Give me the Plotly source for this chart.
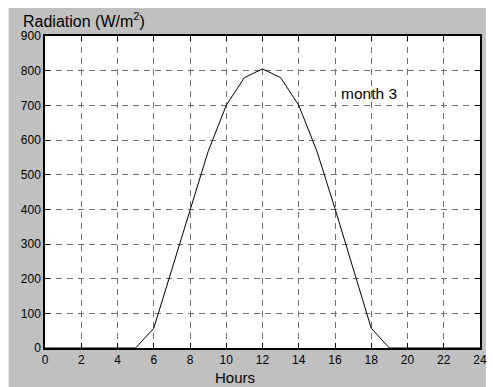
import plotly.graph_objects as go

hours = list(range(0, 25))
radiation = [0, 0, 0, 0, 0, 0, 57, 228, 402, 567, 700, 780, 805, 780, 700, 568, 402, 228, 57, 0, 0, 0, 0, 0, 0]
x_ticks = list(range(0, 25, 2))
y_ticks = list(range(0, 901, 100))

W, H = 493, 387
L, R, T, B = 45, 6, 36, 39
pw, ph = W - L - R, H - T - B

def px(xp):
    return (xp - L) / pw

def py(yp):
    return (H - B - yp) / ph

fig = go.Figure()
fig.add_trace(go.Scatter(x=hours, y=radiation, mode="lines",
                         line=dict(color="black", width=1), showlegend=False))

font = "Liberation Sans, Arial, sans-serif"
axis_common = dict(showline=True, linecolor="black", linewidth=1.5, mirror="ticks",
                   ticks="inside", ticklen=5, tickcolor="black", tickwidth=1,
                   showgrid=True, gridcolor="#707070", gridwidth=1, griddash="6px,5px",
                   zeroline=False, tickfont=dict(family=font, size=12, color="black"))

fig.update_xaxes(range=[0, 24], tickvals=x_ticks, **axis_common)
fig.update_yaxes(range=[0, 900], tickvals=y_ticks, **axis_common)

fig.add_shape(type="rect", xref="paper", yref="paper", x0=px(8), x1=px(W), y0=py(H), y1=py(8),
              fillcolor="#c0c0c0", line=dict(width=0), layer="below")
fig.add_shape(type="rect", xref="paper", yref="paper", x0=0, x1=1, y0=0, y1=1,
              fillcolor="white", line=dict(width=0), layer="below")

fig.add_annotation(text="Radiation (W/m<sup>2</sup>)", xref="paper", yref="paper",
                   x=px(21), y=py(20), xanchor="left", yanchor="middle", showarrow=False,
                   font=dict(family=font, size=16, color="black"))
fig.add_annotation(text="Hours", xref="paper", yref="paper",
                   x=px(238), y=py(377), xanchor="center", yanchor="middle", showarrow=False,
                   font=dict(family=font, size=15, color="black"))
fig.add_annotation(text="month 3", x=16.2, y=735, xanchor="left", yanchor="middle", showarrow=False,
                   font=dict(family=font, size=15.5, color="black"))

fig.update_layout(width=W, height=H, margin=dict(l=L, r=R, t=T, b=B),
                  paper_bgcolor="white", plot_bgcolor="white")
fig.write_html("out.html")
